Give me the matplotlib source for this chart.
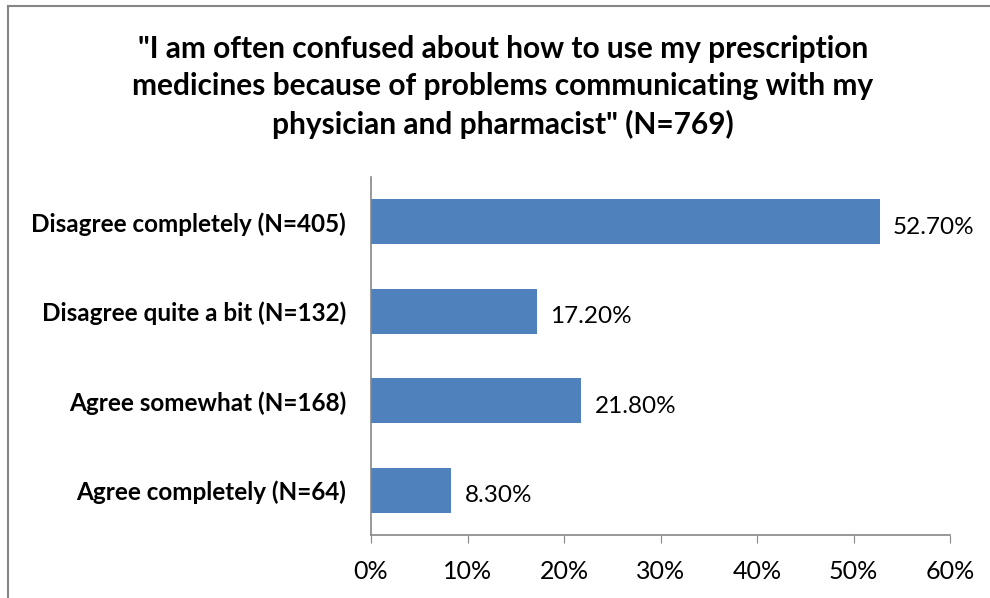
import matplotlib.pyplot as plt
from matplotlib.lines import Line2D
from matplotlib.ticker import FuncFormatter

categories = ["Disagree completely (N=405)", "Disagree quite a bit (N=132)",
              "Agree somewhat (N=168)", "Agree completely (N=64)"]
shares = [0.527, 0.172, 0.218, 0.083]
value_labels = ["52.70%", "17.20%", "21.80%", "8.30%"]
title = ('"I am often confused about how to use my prescription\n'
         'medicines because of problems communicating with my\n'
         'physician and pharmacist" (N=769)')

plt.rcParams["font.family"] = ["Lato", "DejaVu Sans"]

fig = plt.figure(figsize=(9.9, 5.98), dpi=100)
ax = fig.add_axes([371 / 990, 1 - 535 / 598, (950 - 371) / 990, (535 - 177) / 598])

y = list(range(len(categories)))
ax.barh(y, shares, height=0.5, color="#4F81BD")
ax.set_ylim(len(categories) - 0.5, -0.5)
ax.set_xlim(0, 0.6)
ax.set_xticks([0, 0.1, 0.2, 0.3, 0.4, 0.5, 0.6])
ax.xaxis.set_major_formatter(FuncFormatter(lambda v, p: "{:.0f}%".format(v * 100)))
ax.set_yticks(y)
ax.set_yticklabels(categories, fontweight="bold", fontsize=17.5)
ax.tick_params(axis="y", length=0, pad=18)
ax.tick_params(axis="x", length=6, color="#868686", labelsize=18, pad=12)

for s in ["top", "right"]:
    ax.spines[s].set_visible(False)
for s in ["left", "bottom"]:
    ax.spines[s].set_color("#868686")
    ax.spines[s].set_linewidth(1.2)

for yi, v, lab in zip(y, shares, value_labels):
    ax.text(v + 0.014, yi + 0.06, lab, va="center", ha="left", fontsize=17.5)

fig.text(0.5 + 0.008, 1 - 87 / 598, title, ha="center", va="center",
         fontsize=21.5, fontweight="bold", linespacing=1.42)

# outer chart border (left and top only visible)
fig.add_artist(Line2D([8 / 990, 8 / 990], [0, 1 - 6 / 598], transform=fig.transFigure,
                      color="#868686", lw=1.5))
fig.add_artist(Line2D([8 / 990, 1], [1 - 6 / 598, 1 - 6 / 598], transform=fig.transFigure,
                      color="#868686", lw=1.5))

fig.savefig("out.png", dpi=100)
